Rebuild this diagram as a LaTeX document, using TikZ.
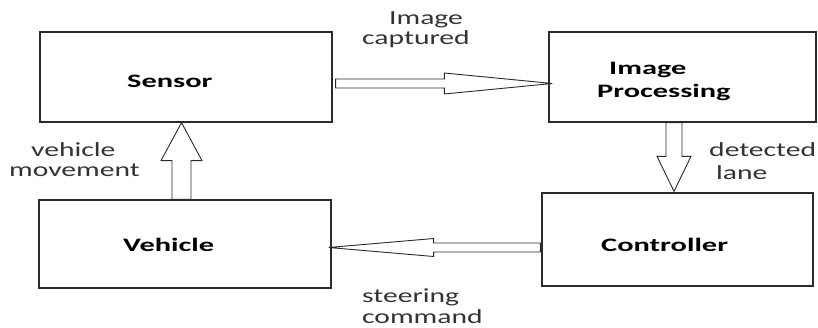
\documentclass[tikz,border=0pt]{standalone}
\usepackage{fontspec}
\usetikzlibrary{calc}
\newfontfamily\lblfont[FakeStretch=1.48]{Carlito}
\newfontfamily\boxfnt[FakeStretch=1.6]{Carlito Bold}
\definecolor{linec}{HTML}{2B2B2B}
\definecolor{txtc}{HTML}{333333}
\tikzset{
  block/.style={draw=linec, line width=1.3pt, inner sep=0pt, minimum width=#1},
  boxtext/.style={anchor=base west, inner sep=0pt, text=black, font=\boxfnt\fontsize{19}{21}\selectfont},
  lbltext/.style={anchor=base west, inner sep=0pt, text=txtc, font=\lblfont\fontsize{20}{22}\selectfont},
  arrowline/.style={draw=linec, line width=0.9pt, fill=white, line join=miter}
}
\newcommand{\blockarrow}[5]{%
  \path ($(#2)!#5!(#1)$) coordinate (hb);
  \draw[arrowline] ($(#1)!#3!90:(#2)$) -- ($(hb)!#3!90:(#2)$) -- ($(hb)!#4!90:(#2)$) -- (#2)
     -- ($(hb)!#4!-90:(#2)$) -- ($(hb)!#3!-90:(#2)$) -- ($(#1)!#3!-90:(#2)$) -- cycle;
}
\begin{document}
\begin{tikzpicture}[x=1pt,y=-1pt]
\useasboundingbox (0,0) rectangle (818,328);
% boxes
\node[block=292pt, minimum height=90pt] (sensor) at (186,77) {};
\node[block=267pt, minimum height=90pt] (ip) at (682.5,77) {};
\node[block=292pt, minimum height=88pt] (vehicle) at (185,244) {};
\node[block=271pt, minimum height=93pt] (ctrl) at (677.5,239.5) {};
% box texts
\node[boxtext] (tsensor) at (127,88) {Sensor};
\node[boxtext] (tip1) at (609,75) {Image};
\node[boxtext] (tip2) at (597,98) {Processing};
\node[boxtext] (tvehicle) at (123,251.5) {Vehicle};
\node[boxtext] (tctrl) at (601,251.5) {Controller};
% connector end points
\coordinate (a1s) at ($(sensor.east)+(3,6.5)$);
\coordinate (a1e) at ($(ip.west)+(4,6.5)$);
\coordinate (a2s) at ($(ip.south)+(-8.5,0)$);
\coordinate (a2e) at ($(ctrl.north)+(-3.5,-1)$);
\coordinate (a3s) at ($(ctrl.west)+(-1,8)$);
\coordinate (a3e) at ($(vehicle.east)+(-3,3.5)$);
\coordinate (a4s) at ($(vehicle.north)+(-3.5,0)$);
\coordinate (a4e) at ($(sensor.south)+(-4.5,0)$);
% block arrows
\blockarrow{a1s}{a1e}{4.5pt}{10.5pt}{108pt}
\blockarrow{a2s}{a2e}{8pt}{17pt}{35pt}
\blockarrow{a3s}{a3e}{4.5pt}{9pt}{105pt}
\blockarrow{a4s}{a4e}{9.5pt}{20.5pt}{38pt}
% labels
\node[lbltext] (l1a) at (389,25) {Image};
\node[lbltext] (l1b) at (362,45) {captured};
\node[lbltext] (l2a) at (709,157) {detected};
\node[lbltext] (l2b) at (716,180) {lane};
\node[lbltext] (l3a) at (362,302) {steering};
\node[lbltext] (l3b) at (362,323) {command};
\node[lbltext] (l4a) at (31,157) {vehicle};
\node[lbltext] (l4b) at (9,177) {movement};
\end{tikzpicture}
\end{document}
